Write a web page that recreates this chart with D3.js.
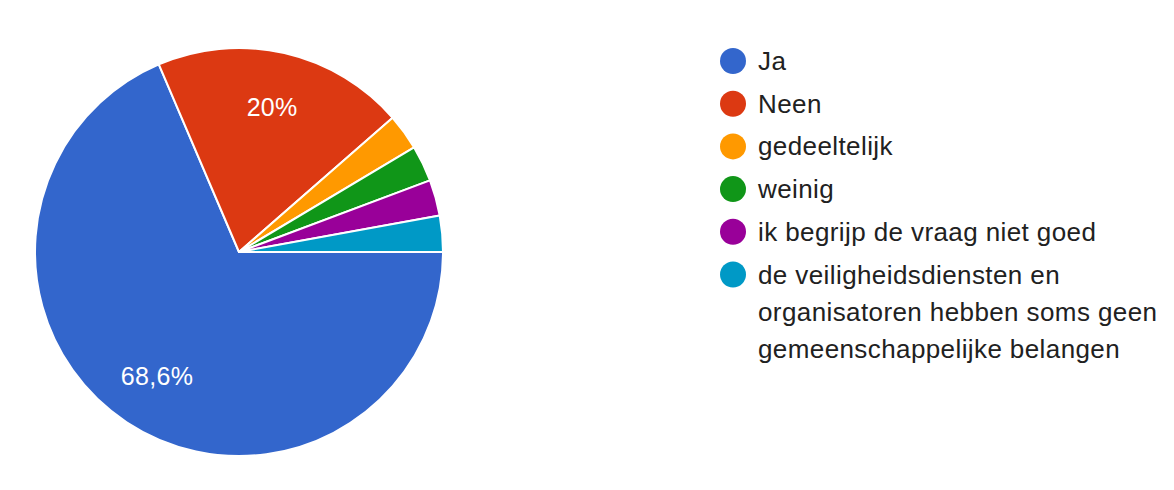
<!DOCTYPE html>
<html>
<head>
<meta charset="utf-8">
<script src="https://cdn.jsdelivr.net/npm/d3@7"></script>
<style>
  html, body { margin: 0; padding: 0; background: #ffffff; }
  svg { display: block; }
  text { font-family: "Liberation Sans", Arial, Helvetica, sans-serif; }
</style>
</head>
<body>
<svg id="chart" width="1174" height="490"></svg>
<script>
// Survey answers (number of respondents per answer)
const categories = [
  "Ja",
  "Neen",
  "gedeeltelijk",
  "weinig",
  "ik begrijp de vraag niet goed",
  "de veiligheidsdiensten en organisatoren hebben soms geen gemeenschappelijke belangen"
];
const counts = [24, 7, 1, 1, 1, 1];
const colors = ["#3366cc", "#dc3912", "#ff9900", "#109618", "#990099", "#0099c6"];

const svg = d3.select("#chart");
const cx = 239, cy = 252, radius = 204;

const color = d3.scaleOrdinal().domain(categories).range(colors);
const total = d3.sum(counts);
const data = categories.map((c, i) => ({ name: c, value: counts[i] }));

// Slices run clockwise, starting at 3 o'clock
const pie = d3.pie()
  .value(d => d.value)
  .sort(null)
  .startAngle(Math.PI / 2)
  .endAngle(Math.PI / 2 + 2 * Math.PI);

const arcs = pie(data);
const arc = d3.arc().innerRadius(0).outerRadius(radius);
const labelArc = d3.arc().innerRadius(radius * 0.73).outerRadius(radius * 0.73);

const g = svg.append("g").attr("transform", `translate(${cx},${cy})`);

g.selectAll("path.slice")
  .data(arcs)
  .join("path")
  .attr("class", "slice")
  .attr("d", arc)
  .attr("fill", d => color(d.data.name))
  .attr("stroke", "#ffffff")
  .attr("stroke-width", 2)
  .attr("stroke-linejoin", "round");

// Percentage labels on slices large enough to hold them
const fmt = v => {
  const p = Math.round(v * 1000) / 10;
  return (Number.isInteger(p) ? p.toString() : p.toFixed(1)).replace(".", ",") + "%";
};

g.selectAll("text.pct")
  .data(arcs.filter(d => d.value / total > 0.05))
  .join("text")
  .attr("class", "pct")
  .attr("transform", d => `translate(${labelArc.centroid(d)})`)
  .attr("text-anchor", "middle")
  .attr("dy", "0.36em")
  .attr("fill", "#ffffff")
  .attr("font-size", 25)
  .attr("letter-spacing", 0.3)
  .text(d => fmt(d.value / total));

// Legend
const legendX = 733, legendY = 61, rowStep = 42.7, lineStep = 37, maxWidth = 420;
const legend = svg.append("g");
let y = legendY;
data.forEach((d, i) => {
  const item = legend.append("g");
  item.append("circle")
    .attr("cx", legendX)
    .attr("cy", y)
    .attr("r", 13)
    .attr("fill", color(d.name));
  const text = item.append("text")
    .attr("x", legendX + 25)
    .attr("y", y + 9)
    .attr("fill", "#212121")
    .attr("font-size", 26)
    .attr("letter-spacing", 0.4);
  // wrap words into lines no wider than maxWidth
  const words = d.name.split(" ");
  let line = [];
  let tspan = text.append("tspan").attr("x", legendX + 25).attr("dy", 0);
  let nLines = 1;
  words.forEach(w => {
    line.push(w);
    tspan.text(line.join(" "));
    if (tspan.node().getComputedTextLength() > maxWidth && line.length > 1) {
      line.pop();
      tspan.text(line.join(" "));
      line = [w];
      tspan = text.append("tspan").attr("x", legendX + 25).attr("dy", lineStep).text(w);
      nLines++;
    }
  });
  y += rowStep + (nLines - 1) * lineStep;
});
</script>
</body>
</html>
